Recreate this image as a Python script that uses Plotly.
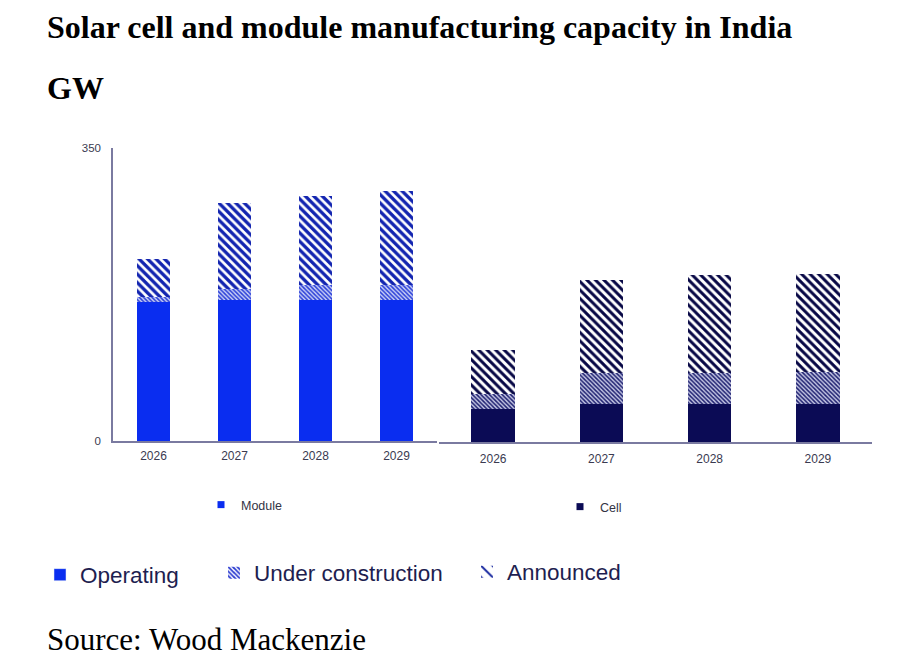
import plotly.graph_objects as go

W, H = 904, 672
OFF = 8  # page offset of the figure inside the browser window

years = ['2026', '2027', '2028', '2029']

# GW (stack segments)
module_operating = [166, 169, 169, 169]
module_under_construction = [6, 12, 17, 17]
module_announced = [45, 103, 107, 113]

cell_operating = [39, 45, 45, 45]
cell_under_construction = [18, 37, 38, 39]
cell_announced = [53, 112, 116, 117]

y_ticks = [0, 350]

BLUE = '#0a2df0'
NAVY = '#0b0b55'
TXT = '#333344'


def px_x(p):
    return (p - OFF) / W


def px_y(p):
    return 1 - (p - OFF) / H


def hatch(fg, size, solidity, bg='white'):
    return dict(color=bg, line_width=0,
                pattern=dict(shape='\\', fgcolor=fg, bgcolor=bg, fgopacity=1,
                             size=size, solidity=solidity))


fig = go.Figure()

# module panel
fig.add_trace(go.Bar(x=years, y=module_operating, marker_color=BLUE, marker_line_width=0, width=0.4,
                     xaxis='x', yaxis='y', showlegend=False))
fig.add_trace(go.Bar(x=years, y=module_under_construction, width=0.4,
                     marker=hatch('#2a3ed8', 3, 0.5, '#c8cff5'),
                     xaxis='x', yaxis='y', showlegend=False))
fig.add_trace(go.Bar(x=years, y=module_announced, width=0.4,
                     marker=hatch('#1224b0', 6, 0.55),
                     xaxis='x', yaxis='y', showlegend=False))

# cell panel
fig.add_trace(go.Bar(x=years, y=cell_operating, marker_color=NAVY, marker_line_width=0, width=0.4,
                     xaxis='x2', yaxis='y2', showlegend=False))
fig.add_trace(go.Bar(x=years, y=cell_under_construction, width=0.4,
                     marker=hatch('#1e2070', 3, 0.5, '#c4c6e4'),
                     xaxis='x2', yaxis='y2', showlegend=False))
fig.add_trace(go.Bar(x=years, y=cell_announced, width=0.4,
                     marker=hatch('#070745', 6, 0.5),
                     xaxis='x2', yaxis='y2', showlegend=False))

# legend entries
fig.add_trace(go.Scatter(x=[None], y=[None], name='Module', mode='markers',
                         marker=dict(symbol='square', size=7, color=BLUE),
                         legend='legend', xaxis='x', yaxis='y'))
fig.add_trace(go.Scatter(x=[None], y=[None], name='Cell', mode='markers',
                         marker=dict(symbol='square', size=7, color=NAVY),
                         legend='legend2', xaxis='x2', yaxis='y2'))
fig.add_trace(go.Bar(x=[None], y=[None], name='Operating', marker_color=BLUE,
                     legend='legend3', xaxis='x', yaxis='y'))
fig.add_trace(go.Bar(x=[None], y=[None], name='Under construction',
                     marker=hatch('#2a3ad0', 4, 0.55),
                     legend='legend4', xaxis='x', yaxis='y'))
fig.add_trace(go.Bar(x=[None], y=[None], name='Announced',
                     marker=hatch('#1a2aa0', 14, 0.25),
                     legend='legend5', xaxis='x', yaxis='y'))

axis_font = dict(family='Liberation Sans, Arial', size=12, color='#3a3a50')
small_leg = dict(family='Liberation Sans, Arial', size=12.5, color=TXT)
big_leg = dict(family='Liberation Sans, Arial', size=22.5, color='#1e1e50')


def leg(x, y, font):
    return dict(x=px_x(x), y=px_y(y), xanchor='left', yanchor='middle',
                font=font, itemwidth=30, bgcolor='rgba(0,0,0,0)')


fig.update_layout(
    width=W, height=H, barmode='stack',
    margin=dict(l=0, r=0, t=0, b=0, autoexpand=False),
    paper_bgcolor='white', plot_bgcolor='rgba(0,0,0,0)',
    xaxis=dict(domain=[px_x(113), px_x(437)], range=[-0.5, 3.5], type='category',
               showline=True, linecolor='#7a7aa0', linewidth=1.5, ticks='',
               ticklabelstandoff=3, tickfont=axis_font, showgrid=False),
    yaxis=dict(domain=[px_y(441), px_y(148)], range=[0, 350], tickvals=y_ticks,
               showline=True, linecolor='#7a7aa0', linewidth=1.5, ticks='',
               ticklabelstandoff=8, tickfont=dict(axis_font, size=11.5),
               showgrid=False, zeroline=False),
    xaxis2=dict(domain=[px_x(439), px_x(872)], range=[-0.5, 3.5], type='category',
                anchor='y2', showline=True, linecolor='#7a7aa0', linewidth=1.5, ticks='',
                ticklabelstandoff=5, tickfont=axis_font, showgrid=False),
    yaxis2=dict(domain=[px_y(442), px_y(149)], range=[0, 350], anchor='x2',
                visible=False, showgrid=False, zeroline=False),
    legend=leg(201, 505, small_leg),
    legend2=leg(560, 507, small_leg),
    legend3=leg(40, 575, big_leg),
    legend4=leg(214, 573, big_leg),
    legend5=leg(467, 572, big_leg),
    showlegend=True,
)

fig.add_annotation(text='<b>Solar cell and module manufacturing capacity in India</b>',
                   x=px_x(45), y=px_y(27), xref='paper', yref='paper', xanchor='left', yanchor='middle',
                   showarrow=False, font=dict(family='Liberation Serif', size=32, color='black'))
fig.add_annotation(text='<b>GW</b>',
                   x=px_x(45), y=px_y(88), xref='paper', yref='paper', xanchor='left', yanchor='middle',
                   showarrow=False, font=dict(family='Liberation Serif', size=32, color='black'))
fig.add_annotation(text='Source: Wood Mackenzie',
                   x=px_x(45), y=px_y(639), xref='paper', yref='paper', xanchor='left', yanchor='middle',
                   showarrow=False, font=dict(family='Liberation Serif', size=31, color='black'))

fig.write_html('out.html')
